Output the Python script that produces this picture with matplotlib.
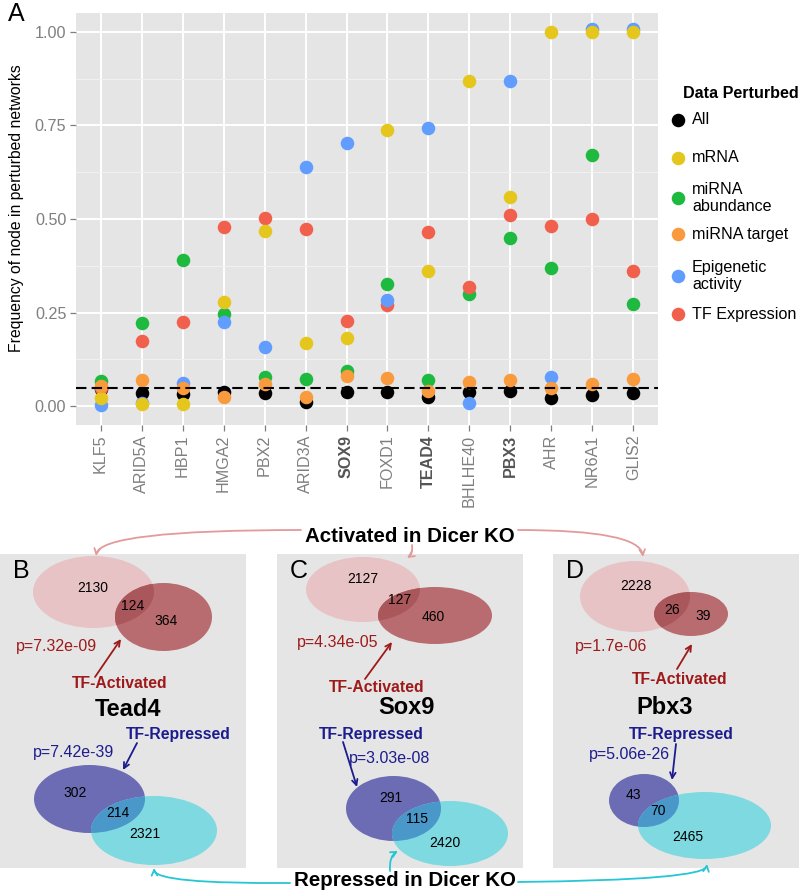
import numpy as np
import matplotlib.pyplot as plt
from matplotlib.patches import Ellipse, Rectangle, FancyArrowPatch
from matplotlib.path import Path

plt.rcParams['font.family'] = ['Liberation Sans', 'DejaVu Sans']

# ---- panel A data: frequency of node in perturbed networks ----
genes = ["KLF5", "ARID5A", "HBP1", "HMGA2", "PBX2", "ARID3A", "SOX9", "FOXD1",
         "TEAD4", "BHLHE40", "PBX3", "AHR", "NR6A1", "GLIS2"]
bold_genes = ["SOX9", "TEAD4", "PBX3"]

freq_all = [0.046, 0.035, 0.033, 0.037, 0.035, 0.012, 0.039, 0.037, 0.025, 0.038, 0.042, 0.021, 0.031, 0.035]
freq_mrna = [0.021, 0.005, 0.005, 0.279, 0.469, 0.170, 0.181, 0.737, 0.361, 0.869, 0.560, 1.000, 1.000, 1.000]
freq_mirna_ab = [0.068, 0.221, 0.390, 0.246, 0.079, 0.073, 0.095, 0.327, 0.070, 0.301, 0.450, 0.370, 0.670, 0.273]
freq_mirna_tg = [0.053, 0.070, 0.050, 0.025, 0.059, 0.026, 0.080, 0.076, 0.040, 0.065, 0.070, 0.049, 0.060, 0.073]
freq_epi = [0.004, 0.008, 0.061, 0.224, 0.157, 0.638, 0.703, 0.284, 0.743, 0.008, 0.869, 0.077, 1.006, 1.006]
freq_tf = [0.050, 0.173, 0.225, 0.478, 0.502, 0.472, 0.228, 0.270, 0.465, 0.319, 0.511, 0.482, 0.501, 0.362]
null_level = 0.05

# ---- panels B-D data: Venn counts ----
tf_names = ["Tead4", "Sox9", "Pbx3"]
panel_letters = ["B", "C", "D"]
act_dicer_only = [2130, 2127, 2228]
act_overlap = [124, 127, 26]
act_tf_only = [364, 460, 39]
rep_tf_only = [302, 291, 43]
rep_overlap = [214, 115, 70]
rep_dicer_only = [2321, 2420, 2465]
p_act = ["7.32e-09", "4.34e-05", "1.7e-06"]
p_rep = ["7.42e-39", "3.03e-08", "5.06e-26"]

GREY_BG = "#E5E5E5"
DARKRED = "#9E1A1A"
NAVY = "#1C1C8E"
PINK_LINE = "#E39A9A"
CYAN_LINE = "#25C6D6"

W, H = 800, 892
fig = plt.figure(figsize=(8, 8.92), dpi=100)

# ---------------- panel A ----------------
ax = fig.add_axes([76 / W, 1 - 425 / H, (658 - 76) / W, (425 - 13) / H])
ax.set_facecolor(GREY_BG)
for s in ax.spines.values():
    s.set_visible(False)
x = np.arange(1, len(genes) + 1)

series = [
    ("All", freq_all, "#000000", 2),
    ("mRNA", freq_mrna, "#E5C61C", 6),
    ("miRNA\nabundance", freq_mirna_ab, "#1DBA3F", 3),
    ("miRNA target", freq_mirna_tg, "#F99A3C", 7),
    ("Epigenetic\nactivity", freq_epi, "#619CFF", 5),
    ("TF Expression", freq_tf, "#F1604C", 4),
]
for lab, vals, col, z in series:
    ax.scatter(x, vals, s=95, color=col, linewidths=0, zorder=z)

ax.axhline(null_level, color="black", ls=(0, (5, 2.5)), lw=1.5, zorder=10)

ax.set_xlim(0.4, len(genes) + 0.6)
ax.set_ylim(-0.05, 1.05)
ax.set_yticks([0, 0.25, 0.5, 0.75, 1.0])
ax.set_yticklabels(["0.00", "0.25", "0.50", "0.75", "1.00"])
ax.set_yticks([0.125, 0.375, 0.625, 0.875], minor=True)
ax.set_xticks(x)
ax.set_xticklabels(genes, rotation=90, va="top")
ax.set_axisbelow(True)
ax.grid(which="major", color="white", lw=1.4)
ax.grid(which="minor", axis="y", color="#F2F2F2", lw=0.7)
ax.tick_params(which="major", colors="#7F7F7F", labelsize=11.6, length=4, width=0.9, pad=3)
ax.tick_params(which="minor", length=0)
for t in ax.get_xticklabels():
    if t.get_text() in bold_genes:
        t.set_fontweight("bold")
        t.set_color("#555555")

# ---------------- overlay (pixel coordinates) ----------------
ov = fig.add_axes([0, 0, 1, 1])
ov.set_xlim(0, W)
ov.set_ylim(H, 0)
ov.axis("off")

ov.text(8, 14, "A", fontsize=18, ha="left", va="center")
ov.text(17, 208, "Frequency of node in perturbed networks", rotation=90,
        fontsize=11.3, ha="center", va="center")

# legend
ov.text(683, 93, "Data Perturbed", fontsize=11.6, fontweight="bold", ha="left", va="center")
leg_y = [120, 158, 198, 234, 276, 314]
for (lab, vals, col, z), ly in zip(series, leg_y):
    ov.scatter([678], [ly], s=95, color=col, linewidths=0)
    ov.text(692, ly, lab, fontsize=11.6, ha="left", va="center", linespacing=1.15)

# ---------------- panels B-D ----------------
box_x0 = [0, 277, 553]
box_top, box_bot, box_w = 554, 868, 246

# layout of each Venn panel, relative to the panel's left edge
layout = [
    dict(pink=(93.5, 592, 121, 72), red=(163.5, 617, 97, 68),
         n_act=[(93, 588), (133, 606), (166, 621)], p_act=(16, 646),
         arr_act=((95, 677), (121, 639)), lab_act=(120, 684), name=(128, 709),
         lab_rep=(178, 734), p_rep=(33, 752), arr_rep=((137, 743), (123, 770)),
         blue=(89.5, 799, 111, 68), cyan=(154, 830.5, 126, 69),
         n_rep=[(75, 793), (118, 813), (145, 834)]),
    dict(pink=(86, 589.5, 114, 65), red=(158, 615.5, 114, 57),
         n_act=[(86, 579), (123, 600), (156, 617)], p_act=(20, 643),
         arr_act=((88, 679), (115, 642)), lab_act=(100, 687), name=(129, 708),
         lab_rep=(94, 734), p_rep=(72, 759), arr_rep=((66, 742), (80, 787)),
         blue=(116.5, 808.5, 95, 65), cyan=(173, 833.5, 116, 65),
         n_rep=[(114, 798), (140, 819), (168, 843)]),
    dict(pink=(82, 596.5, 110, 71), red=(138, 614, 74, 44),
         n_act=[(83, 586), (119, 610), (150, 616)], p_act=(22, 647),
         arr_act=((124, 669), (139, 644)), lab_act=(127, 679), name=(112, 708),
         lab_rep=(128, 734), p_rep=(36, 755), arr_rep=((123, 744), (119, 780)),
         blue=(91, 800.5, 70, 53), cyan=(151.5, 825.5, 133, 67),
         n_rep=[(80, 795), (105, 811), (135, 837)]),
]


def venn_pair(x0, e1, e2, c1, c2, c12):
    a = Ellipse((x0 + e1[0], e1[1]), e1[2], e1[3], fc=c1, ec="none", zorder=2)
    b = Ellipse((x0 + e2[0], e2[1]), e2[2], e2[3], fc=c2, ec="none", zorder=3)
    ov.add_patch(a)
    ov.add_patch(b)
    o = Ellipse((x0 + e2[0], e2[1]), e2[2], e2[3], fc=c12, ec="none", zorder=4)
    ov.add_patch(o)
    o.set_clip_path(a)


def arrow(p0, p1, col, lw=1.3):
    ov.add_patch(FancyArrowPatch(p0, p1, arrowstyle="->,head_length=4,head_width=2",
                                 color=col, lw=lw, shrinkA=0, shrinkB=0, zorder=6))


for i, x0 in enumerate(box_x0):
    L = layout[i]
    ov.add_patch(Rectangle((x0, box_top), box_w, box_bot - box_top, fc=GREY_BG, ec="none", zorder=1))
    ov.text(x0 + 13, 571, panel_letters[i], fontsize=18, ha="left", va="center", zorder=7)

    venn_pair(x0, L["pink"], L["red"], "#E8C3C5", "#B86C6F", "#AA575B")
    for (px, py), n in zip(L["n_act"], [act_dicer_only[i], act_overlap[i], act_tf_only[i]]):
        ov.text(x0 + px, py, str(n), fontsize=10, ha="center", va="center", zorder=7)
    ov.text(x0 + L["p_act"][0], L["p_act"][1], "p=" + p_act[i], color=DARKRED,
            fontsize=11.5, ha="left", va="center", zorder=7)
    (a0, a1) = L["arr_act"]
    arrow((x0 + a0[0], a0[1]), (x0 + a1[0], a1[1]), DARKRED)
    ov.text(x0 + L["lab_act"][0], L["lab_act"][1], "TF-Activated", color=DARKRED,
            fontsize=11.3, fontweight="bold", ha="center", va="center", zorder=7)
    ov.text(x0 + L["name"][0], L["name"][1], tf_names[i], fontsize=17,
            fontweight="bold", ha="center", va="center", zorder=7)
    ov.text(x0 + L["lab_rep"][0], L["lab_rep"][1], "TF-Repressed", color=NAVY,
            fontsize=11.3, fontweight="bold", ha="center", va="center", zorder=7)
    ov.text(x0 + L["p_rep"][0], L["p_rep"][1], "p=" + p_rep[i], color=NAVY,
            fontsize=11.5, ha="left", va="center", zorder=7)
    (a0, a1) = L["arr_rep"]
    arrow((x0 + a0[0], a0[1]), (x0 + a1[0], a1[1]), NAVY)

    venn_pair(x0, L["blue"], L["cyan"], "#6C6CB5", "#7FD9E0", "#4A97C9")
    for (px, py), n in zip(L["n_rep"], [rep_tf_only[i], rep_overlap[i], rep_dicer_only[i]]):
        ov.text(x0 + px, py, str(n), fontsize=10, ha="center", va="center", zorder=7)

# connectors
ov.text(410, 536, "Activated in Dicer KO", fontsize=14.8, fontweight="bold",
        ha="center", va="center")
ov.text(405, 880, "Repressed in Dicer KO", fontsize=14.8, fontweight="bold",
        ha="center", va="center")


def curve(p0, c, p1, col):
    path = Path([p0, c, p1], [Path.MOVETO, Path.CURVE3, Path.CURVE3])
    ov.add_patch(FancyArrowPatch(path=path, arrowstyle="->,head_length=4,head_width=2",
                                 color=col, lw=1.3, zorder=6))


curve((301, 530), (100, 530), (96, 556), PINK_LINE)
curve((518, 530), (640, 530), (643, 557), PINK_LINE)
curve((412, 545), (413, 554), (407, 558), PINK_LINE)
curve((290, 883), (155, 884), (154, 868), CYAN_LINE)
curve((518, 882), (705, 880), (707, 864), CYAN_LINE)
curve((390, 871), (389, 856), (398, 851), CYAN_LINE)

fig.savefig("out.png", dpi=100)
